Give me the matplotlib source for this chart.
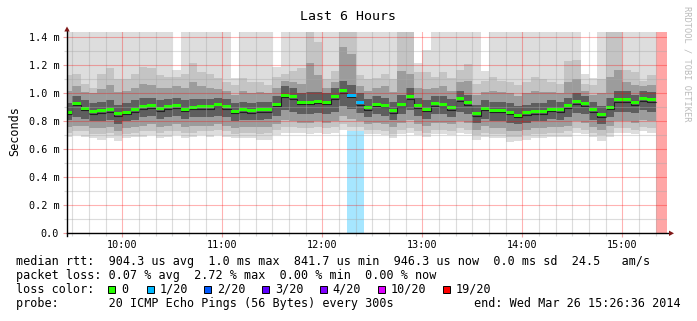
import numpy as np
import matplotlib
matplotlib.use("Agg")
import matplotlib.pyplot as plt
import matplotlib.patches as mpatches
from matplotlib.ticker import MultipleLocator, FuncFormatter

nan = np.nan

W, H = 697, 321
MONO = "DejaVu Sans Mono"

title = "Last 6 Hours"
first_step = 9 + 25 / 60.0      # 09:25, steps of 5 minutes
step = 5 / 60.0
graph_end = 15 + 26.6 / 60.0    # 15:26:36
span = 6.0

# median rtt per 5 min step (ms)
median = [0.866, 0.929, 0.895, 0.869, 0.874, 0.881, 0.854, 0.864, 0.883, 0.905,
          0.910, 0.890, 0.905, 0.912, 0.888, 0.900, 0.905, 0.905, 0.917, 0.905,
          0.871, 0.881, 0.876, 0.881, 0.881, 0.922, 0.988, 0.977, 0.938, 0.936,
          0.945, 0.938, 0.977, 1.020, 0.986, 0.933, 0.897, 0.922, 0.914, 0.874,
          0.917, 0.977, 0.912, 0.888, 0.924, 0.917, 0.897, 0.960, 0.931, 0.854,
          0.893, 0.878, 0.878, 0.864, 0.845, 0.862, 0.869, 0.869, 0.888, 0.883,
          0.910, 0.941, 0.924, 0.883, 0.847, 0.900, 0.953, 0.955, 0.933, 0.960,
          0.953, nan, nan]

# lost pings out of 20
loss = [0, 0, 0, 0, 0, 0, 0, 0, 0, 0,
        0, 0, 0, 0, 0, 0, 0, 0, 0, 0,
        0, 0, 0, 0, 0, 0, 0, 0, 0, 0,
        0, 0, 0, 0, 1, 1, 0, 0, 0, 0,
        0, 0, 0, 0, 0, 0, 0, 0, 0, 0,
        0, 0, 0, 0, 0, 0, 0, 0, 0, 0,
        0, 0, 0, 0, 0, 0, 0, 0, 0, 0,
        0, 19, 19]

# smoke: nested ping ranges (ms), outer -> inner
smoke_max = [1.50, 1.50, 1.50, 1.50, 1.50, 1.50, 1.50, 1.50, 1.50, 1.50,
             1.50, 1.50, 1.50, 1.165, 1.50, 1.50, 1.50, 1.50, 1.50, 1.50,
             1.11, 1.50, 1.50, 1.50, 1.50, 1.19, 1.50, 1.50, 1.50, 1.50,
             1.50, 1.50, 1.50, 1.50, 1.50, 1.50, 1.50, 1.50, 1.50, 1.50,
             1.50, 1.50, 1.22, 1.31, 1.50, 1.50, 1.50, 1.50, 1.50, 1.50,
             1.16, 1.50, 1.50, 1.50, 1.50, 1.50, 1.50, 1.50, 1.50, 1.50,
             1.50, 1.50, 1.14, 1.11, 1.50, 1.50, 1.50, 1.50, 1.50, 1.50,
             1.50, nan, nan]
smoke_hi3 = [1.13, 1.14, 1.07, 1.04, 1.14, 1.18, 1.10, 1.10, 1.14, 1.19,
             1.18, 1.13, 1.12, 1.12, 1.14, 1.22, 1.15, 1.14, 1.11, 1.08,
             1.06, 1.11, 1.08, 1.08, 1.06, 1.12, 1.14, 1.16, 1.18, 1.50,
             1.37, 1.10, 1.16, 1.50, 1.50, 1.13, 1.10, 1.11, 1.14, 1.10,
             1.50, 1.50, 1.15, 1.15, 1.12, 1.15, 1.11, 1.17, 1.21, 1.07,
             1.09, 1.12, 1.09, 1.08, 1.06, 1.08, 1.12, 1.10, 1.08, 1.07,
             1.23, 1.24, 1.07, 1.06, 1.10, 1.50, 1.50, 1.17, 1.15, 1.09,
             1.13, nan, nan]
smoke_hi2 = [1.02, 1.05, 1.01, 1.00, 1.03, 1.06, 1.01, 1.02, 1.04, 1.07,
             1.06, 1.04, 1.04, 1.05, 1.04, 1.08, 1.05, 1.04, 1.03, 1.02,
             0.99, 1.02, 1.00, 1.01, 1.00, 1.04, 1.09, 1.08, 1.07, 1.22,
             1.13, 1.04, 1.08, 1.33, 1.28, 1.05, 1.02, 1.04, 1.05, 1.01,
             1.16, 1.14, 1.04, 1.03, 1.04, 1.05, 1.02, 1.08, 1.09, 0.99,
             1.01, 1.02, 1.01, 1.00, 0.98, 1.00, 1.02, 1.01, 1.01, 1.00,
             1.08, 1.10, 1.02, 0.99, 1.00, 1.12, 1.17, 1.08, 1.06, 1.05,
             1.06, nan, nan]
smoke_hi1 = [0.93, 0.98, 0.95, 0.93, 0.94, 0.95, 0.92, 0.93, 0.95, 0.97,
             0.97, 0.95, 0.96, 0.97, 0.95, 0.96, 0.96, 0.96, 0.97, 0.96,
             0.93, 0.94, 0.93, 0.94, 0.94, 0.98, 1.05, 1.04, 1.00, 1.01,
             1.01, 1.00, 1.04, 1.09, 1.06, 1.00, 0.96, 0.98, 0.97, 0.94,
             0.99, 1.04, 0.97, 0.95, 0.98, 0.98, 0.96, 1.02, 0.99, 0.92,
             0.95, 0.94, 0.94, 0.93, 0.91, 0.92, 0.93, 0.93, 0.95, 0.94,
             0.97, 1.00, 0.98, 0.94, 0.91, 0.97, 1.02, 1.02, 0.99, 1.02,
             1.01, nan, nan]
smoke_lo1 = [0.81, 0.83, 0.82, 0.80, 0.80, 0.81, 0.78, 0.80, 0.81, 0.83,
             0.84, 0.82, 0.83, 0.84, 0.82, 0.83, 0.83, 0.83, 0.84, 0.83,
             0.80, 0.81, 0.81, 0.81, 0.82, 0.84, 0.88, 0.87, 0.85, 0.85,
             0.86, 0.85, 0.87, 0.91, 0.89, 0.86, 0.83, 0.85, 0.84, 0.81,
             0.85, 0.88, 0.84, 0.82, 0.85, 0.85, 0.83, 0.87, 0.85, 0.79,
             0.82, 0.80, 0.80, 0.79, 0.78, 0.79, 0.80, 0.80, 0.82, 0.81,
             0.83, 0.86, 0.85, 0.81, 0.78, 0.83, 0.87, 0.87, 0.86, 0.88,
             0.87, nan, nan]
smoke_lo2 = [0.76, 0.77, 0.77, 0.75, 0.75, 0.76, 0.73, 0.75, 0.76, 0.77,
             0.78, 0.76, 0.77, 0.78, 0.76, 0.77, 0.77, 0.77, 0.78, 0.77,
             0.75, 0.76, 0.76, 0.76, 0.76, 0.78, 0.81, 0.80, 0.79, 0.79,
             0.80, 0.79, 0.80, 0.84, 0.82, 0.80, 0.78, 0.79, 0.78, 0.76,
             0.79, 0.81, 0.78, 0.77, 0.79, 0.79, 0.78, 0.80, 0.79, 0.74,
             0.77, 0.75, 0.75, 0.73, 0.73, 0.74, 0.75, 0.75, 0.76, 0.76,
             0.77, 0.80, 0.79, 0.76, 0.74, 0.77, 0.80, 0.80, 0.79, 0.81,
             0.80, nan, nan]
smoke_lo3 = [0.72, 0.73, 0.73, 0.71, 0.71, 0.72, 0.70, 0.71, 0.72, 0.73,
             0.73, 0.72, 0.73, 0.73, 0.72, 0.72, 0.73, 0.73, 0.74, 0.73,
             0.71, 0.72, 0.72, 0.71, 0.72, 0.74, 0.76, 0.76, 0.75, 0.75,
             0.76, 0.75, 0.76, 0.78, 0.76, 0.76, 0.74, 0.74, 0.73, 0.71,
             0.74, 0.75, 0.73, 0.72, 0.74, 0.74, 0.73, 0.75, 0.74, 0.70,
             0.72, 0.71, 0.71, 0.69, 0.69, 0.70, 0.71, 0.71, 0.72, 0.72,
             0.73, 0.75, 0.74, 0.72, 0.70, 0.72, 0.75, 0.75, 0.74, 0.76,
             0.75, nan, nan]
smoke_min = [0.69, 0.70, 0.69, 0.68, 0.67, 0.68, 0.66, 0.68, 0.69, 0.69,
             0.70, 0.68, 0.69, 0.70, 0.68, 0.69, 0.70, 0.69, 0.70, 0.69,
             0.68, 0.68, 0.68, 0.67, 0.67, 0.70, 0.72, 0.72, 0.72, 0.71,
             0.72, 0.71, 0.72, 0.74, 0.73, 0.73, 0.71, 0.71, 0.70, 0.68,
             0.71, 0.72, 0.70, 0.69, 0.71, 0.71, 0.70, 0.72, 0.71, 0.67,
             0.69, 0.68, 0.68, 0.65, 0.66, 0.67, 0.68, 0.68, 0.69, 0.69,
             0.69, 0.72, 0.71, 0.69, 0.66, 0.69, 0.72, 0.72, 0.71, 0.73,
             0.72, nan, nan]

loss_levels = [0, 1, 2, 3, 4, 10, 19]
loss_labels = ["0", "1/20", "2/20", "3/20", "4/20", "10/20", "19/20"]
loss_colors = ["#26ff00", "#00b8ff", "#0059ff", "#5e00ff", "#7e00ff", "#dd00ff", "#ff0000"]

stats_lines = [
    "median rtt:  904.3 us avg  1.0 ms max  841.7 us min  946.3 us now  0.0 ms sd  24.5   am/s",
    "packet loss: 0.07 % avg  2.72 % max  0.00 % min  0.00 % now",
]
probe_text = "probe:       20 ICMP Echo Pings (56 Bytes) every 300s"
end_text = "end: Wed Mar 26 15:26:36 2014"


def loss_color(n):
    c = loss_colors[0]
    for lvl, col in zip(loss_levels, loss_colors):
        if n >= lvl:
            c = col
    return c


def fx(x):
    return x / W


def fy(y):
    return 1 - y / H


fig = plt.figure(figsize=(W / 100, H / 100), dpi=100)
fig.patch.set_facecolor("white")

ymax = 1.436
ax = fig.add_axes([fx(66.6), fy(233.3), 600 / W, 201 / H])
ax.set_xlim(graph_end - span, graph_end)
ax.set_ylim(0, ymax)
px = ymax / 201.0   # one pixel in data units

med = np.array(median)
x0 = first_step + step * np.arange(len(med))

# loss background bars
for x, n in zip(x0, loss):
    if n > 0:
        ax.axvspan(x, x + step, color=loss_color(n), alpha=0.35, lw=0, zorder=0.8)

# smoke
bands = [(smoke_min, smoke_max, "#dddddd"),
         (smoke_lo3, smoke_hi3, "#c4c4c4"),
         (smoke_lo2, smoke_hi2, "#9c9c9c"),
         (smoke_lo1, smoke_hi1, "#5e5e5e")]
for i, (lo, hi, col) in enumerate(bands):
    lo = np.array(lo)
    hi = np.array(hi)
    ok = np.isfinite(lo)
    ax.bar(x0[ok], hi[ok] - lo[ok], bottom=lo[ok], width=step, align="edge",
           color=col, lw=0, zorder=1 + i * 0.1)

# median: dark step line + coloured bar
ax.step(np.append(x0, x0[-1] + step), np.append(med, med[-1]) - 2 * px,
        where="post", color="#202020", lw=0.8, zorder=2)
ok = np.isfinite(med)
ax.bar(x0[ok], 3 * px, bottom=med[ok] - 1.5 * px, width=step, align="edge",
       color=[loss_color(n) for n, k in zip(loss, ok) if k], lw=0, zorder=2.2)

# grid
ax.xaxis.set_major_locator(MultipleLocator(1))
ax.xaxis.set_minor_locator(MultipleLocator(1 / 6.0))
ax.yaxis.set_major_locator(MultipleLocator(0.2))
ax.yaxis.set_minor_locator(MultipleLocator(0.1))
ax.set_axisbelow(False)
ax.grid(which="major", color="#ff0000", alpha=0.3, lw=0.8)
ax.grid(which="minor", color="#a8a8a8", alpha=0.4, lw=0.8)

ax.xaxis.set_major_formatter(FuncFormatter(lambda v, p: "%02d:00" % round(v)))
ax.yaxis.set_major_formatter(FuncFormatter(lambda v, p: "0.0" if abs(v) < 1e-9 else "%.1f m" % v))
ax.tick_params(which="major", length=3, width=0.8, color="#f0a0a0", labelsize=7.3)
ax.tick_params(which="minor", length=2, width=0.8, color="#d8d8d8")
ax.tick_params(axis="y", pad=2.3)
ax.tick_params(axis="x", pad=1.5)
for lab in ax.get_xticklabels() + ax.get_yticklabels():
    lab.set_family(MONO)
for s in ax.spines.values():
    s.set_visible(False)

# axes with arrows
ax.plot([0, (670 - 66.6) / 600], [0, 0], transform=ax.transAxes, clip_on=False,
        color="black", lw=1.0, zorder=5)
ax.plot([0, 0], [-3 / 201, (233.3 - 29) / 201], transform=ax.transAxes, clip_on=False,
        color="black", lw=1.0, zorder=5)
arrow_col = "#801818"
fig.add_artist(mpatches.Polygon([(fx(67), fy(26.5)), (fx(64.3), fy(31.5)), (fx(69.7), fy(31.5))],
                                closed=True, transform=fig.transFigure, color=arrow_col, lw=0))
fig.add_artist(mpatches.Polygon([(fx(674), fy(233.3)), (fx(669), fy(230.6)), (fx(669), fy(236))],
                                closed=True, transform=fig.transFigure, color=arrow_col, lw=0))

# texts
fig.text(fx(348.5), fy(16), title, ha="center", va="center", family=MONO, fontsize=9.5)
fig.text(fx(15), fy(131), "Seconds", rotation=90, ha="center", va="center",
         family=MONO, fontsize=8.45)
fig.text(fx(686.5), fy(6.5), "RRDTOOL / TOBI OETIKER", rotation=270, ha="center", va="top",
         family=MONO, fontsize=6.2, color="#bbbbbb")

fs = 8.45
fig.text(fx(16), fy(265), stats_lines[0], family=MONO, fontsize=fs, va="baseline")
fig.text(fx(16), fy(279), stats_lines[1], family=MONO, fontsize=fs, va="baseline")
fig.text(fx(16), fy(293), "loss color:", family=MONO, fontsize=fs, va="baseline")
box_left = [108.3, 146.7, 204, 262, 319.5, 378, 443]
for bx, lab, col in zip(box_left, loss_labels, loss_colors):
    fig.add_artist(mpatches.Rectangle((fx(bx), fy(292.7)), 7 / W, 7 / H, transform=fig.transFigure,
                                      facecolor=col, edgecolor="black", lw=0.7))
    fig.text(fx(bx + 13), fy(293), lab, family=MONO, fontsize=fs, va="baseline")
fig.text(fx(16), fy(307), probe_text, family=MONO, fontsize=fs, va="baseline")
fig.text(fx(680.5), fy(307), end_text, family=MONO, fontsize=fs, va="baseline", ha="right")

fig.savefig("out.png", dpi=100)
